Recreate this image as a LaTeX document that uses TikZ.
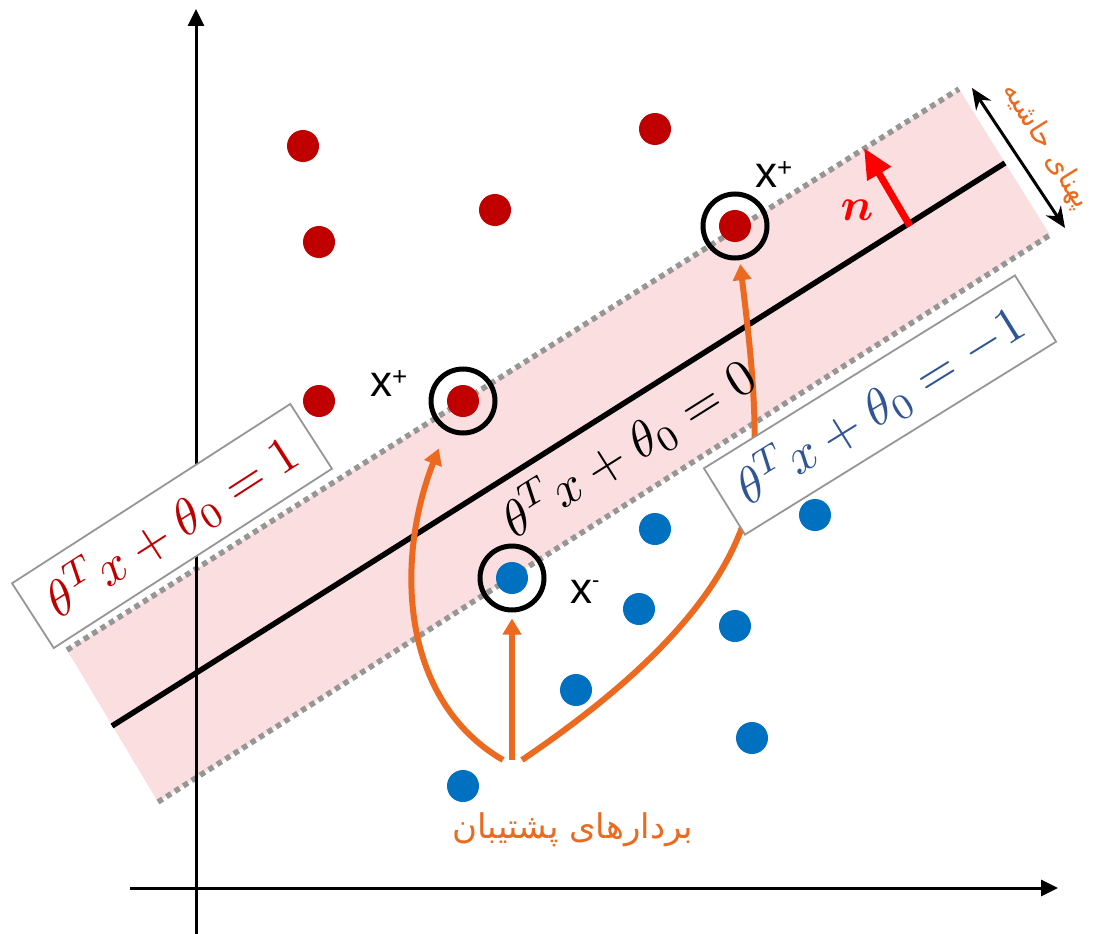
\documentclass[tikz,border=0pt]{standalone}
\usepackage{amsmath,amssymb}
\usepackage{fontspec}
\usepackage{tikz}
\usetikzlibrary{positioning,arrows.meta,calc}
\setsansfont{Liberation Sans}
\newfontfamily\farsifont[Script=Arabic]{DejaVu Sans}
\TeXXeTstate=1
\definecolor{ptred}{RGB}{192,0,0}
\definecolor{ptblue}{RGB}{0,112,192}
\definecolor{svorange}{RGB}{236,106,32}
\definecolor{bandpink}{RGB}{250,222,224}
\definecolor{dotgray}{RGB}{150,150,150}
\definecolor{eqblue}{RGB}{47,85,151}
\definecolor{nred}{RGB}{255,0,0}
\newcommand{\svlab}[3]{x\raisebox{#1}{\fontsize{#2}{#2}\selectfont #3}}
\newcommand{\bigeq}[1]{\scalebox{5.1}{$#1$}}

\begin{document}
\begin{tikzpicture}[x=1pt,y=-1pt,
      redpt/.style={circle,fill=ptred,minimum size=32pt,inner sep=0pt},
      bluept/.style={circle,fill=ptblue,minimum size=32pt,inner sep=0pt},
      svring/.style={circle,draw=black,line width=5pt,minimum size=64pt,inner sep=0pt},
      eqbox/.style={draw=dotgray,line width=1.8pt,fill=white,inner sep=0pt},
      svarrow/.style={draw=svorange,line width=6pt,-{Triangle[length=16pt,width=18pt]}},
      marginline/.style={draw=dotgray,line width=5.5pt,dash pattern=on 5.5pt off 4.5pt},
      axis/.style={line width=3pt,-{Triangle[length=17pt,width=16pt]}},
      xlbl/.style={anchor=base west,inner sep=0pt,font=\sffamily\fontsize{44}{50}\selectfont},
    ]
      \useasboundingbox (0,0) rectangle (1098,934);

      % Margin band: corners and decision line
      \coordinate (tl) at (67,650);
      \coordinate (tr) at (959,89);
      \coordinate (br) at (1050,235);
      \coordinate (bl) at (158,802);
      \fill[bandpink] (tl) -- (tr) -- (br) -- (bl) -- cycle;
      \draw[marginline] (tl) -- (tr);
      \draw[marginline] (bl) -- (br);
      \coordinate (dl) at (112,726);
      \coordinate (dr) at (1005,163);
      \draw[line width=5.5pt] (dl) -- (dr);

      % Axes
      \coordinate (yb) at (196,934);
      \coordinate (yt) at (196,9);
      \coordinate (xl) at (130,888);
      \coordinate (xr) at (1058,888);
      \draw[axis] (yb) -- (yt);
      \draw[axis] (xl) -- (xr);

      % Data points: x=px, y=py
      \foreach \p/\x/\y in {r1/303/146, r2/655/129, r3/319/242, r4/495/210,
                            r5/319/401, r6/463/401, r7/735/226}
        \node[redpt] (\p) at (\x,\y) {};
      \foreach \p/\x/\y in {b1/655/529, b2/815/515, b3/512/578, b4/639/609,
                            b5/735/626, b6/576/690, b7/752/738, b8/463/786}
        \node[bluept] (\p) at (\x,\y) {};

      % Support vectors
      \node[svring] (sv1) at (r6) {};
      \node[svring] (sv2) at (r7) {};
      \node[svring] (sv3) at (b3) {};

      \coordinate (srcl) at (503,760);
      \coordinate (srcm) at (512,760);
      \coordinate (srcr) at (522,760);
      \draw[svarrow,shorten >=19pt] (srcl) .. controls (400,700) and (395,560) .. (sv1.-120);
      \draw[svarrow,shorten >=6pt] (srcm) -- (sv3);
      \draw[svarrow,shorten >=4pt] (srcr) .. controls (640,680) and (735,590) .. (752,490)
        .. controls (760,420) and (748,330) .. (sv2.-82);

      % Equations
      \node[eqbox,rotate=32.8,text=ptred,minimum width=331pt,minimum height=77pt]
        (eqp) at (172,526) {\bigeq{\theta^T x+\theta_0=1}};
      \node[eqbox,rotate=31.8,text=eqblue,minimum width=366pt,minimum height=78pt]
        (eqm) at (880,405) {\bigeq{\theta^T x+\theta_0=-1}};
      \node[rotate=32.2,inner sep=0pt]
        (eqz) at (628,448) {\bigeq{\theta^T x+\theta_0=0}};

      \node[xlbl] (xp1) at (370,396) {\svlab{11pt}{26}{+}};
      \node[xlbl] (xp2) at (755,187) {\svlab{11pt}{26}{+}};
      \node[xlbl] (xm) at (570,603) {\svlab{16pt}{22}{-}};

      % Normal vector
      \coordinate (nfoot) at (910,226);
      \coordinate (ntip) at (864,148);
      \draw[nred,line width=7pt,-{Triangle[length=30pt,width=26pt]}] (nfoot) -- (ntip);
      \node[text=nred] (nlbl) at (857,210) {\scalebox{4.6}{$\boldsymbol{n}$}};

      % Margin width
      \coordinate (mtop) at (972,88);
      \coordinate (mbot) at (1065,228);
      \draw[line width=3pt,{Stealth[length=21pt,width=18pt]}-{Stealth[length=21pt,width=18pt]}] (mtop) -- (mbot);
      \node[rotate=-58,text=svorange,font=\farsifont\fontsize{28}{34}\selectfont]
        (mwlbl) at (1046,146) {\beginR پهنای حاشیه\endR};

      \node[text=svorange,font=\farsifont\fontsize{34}{40}\selectfont]
        (svlbl) at (573,830) {\beginR بردارهای پشتیبان\endR};
    \end{tikzpicture}
\end{document}
